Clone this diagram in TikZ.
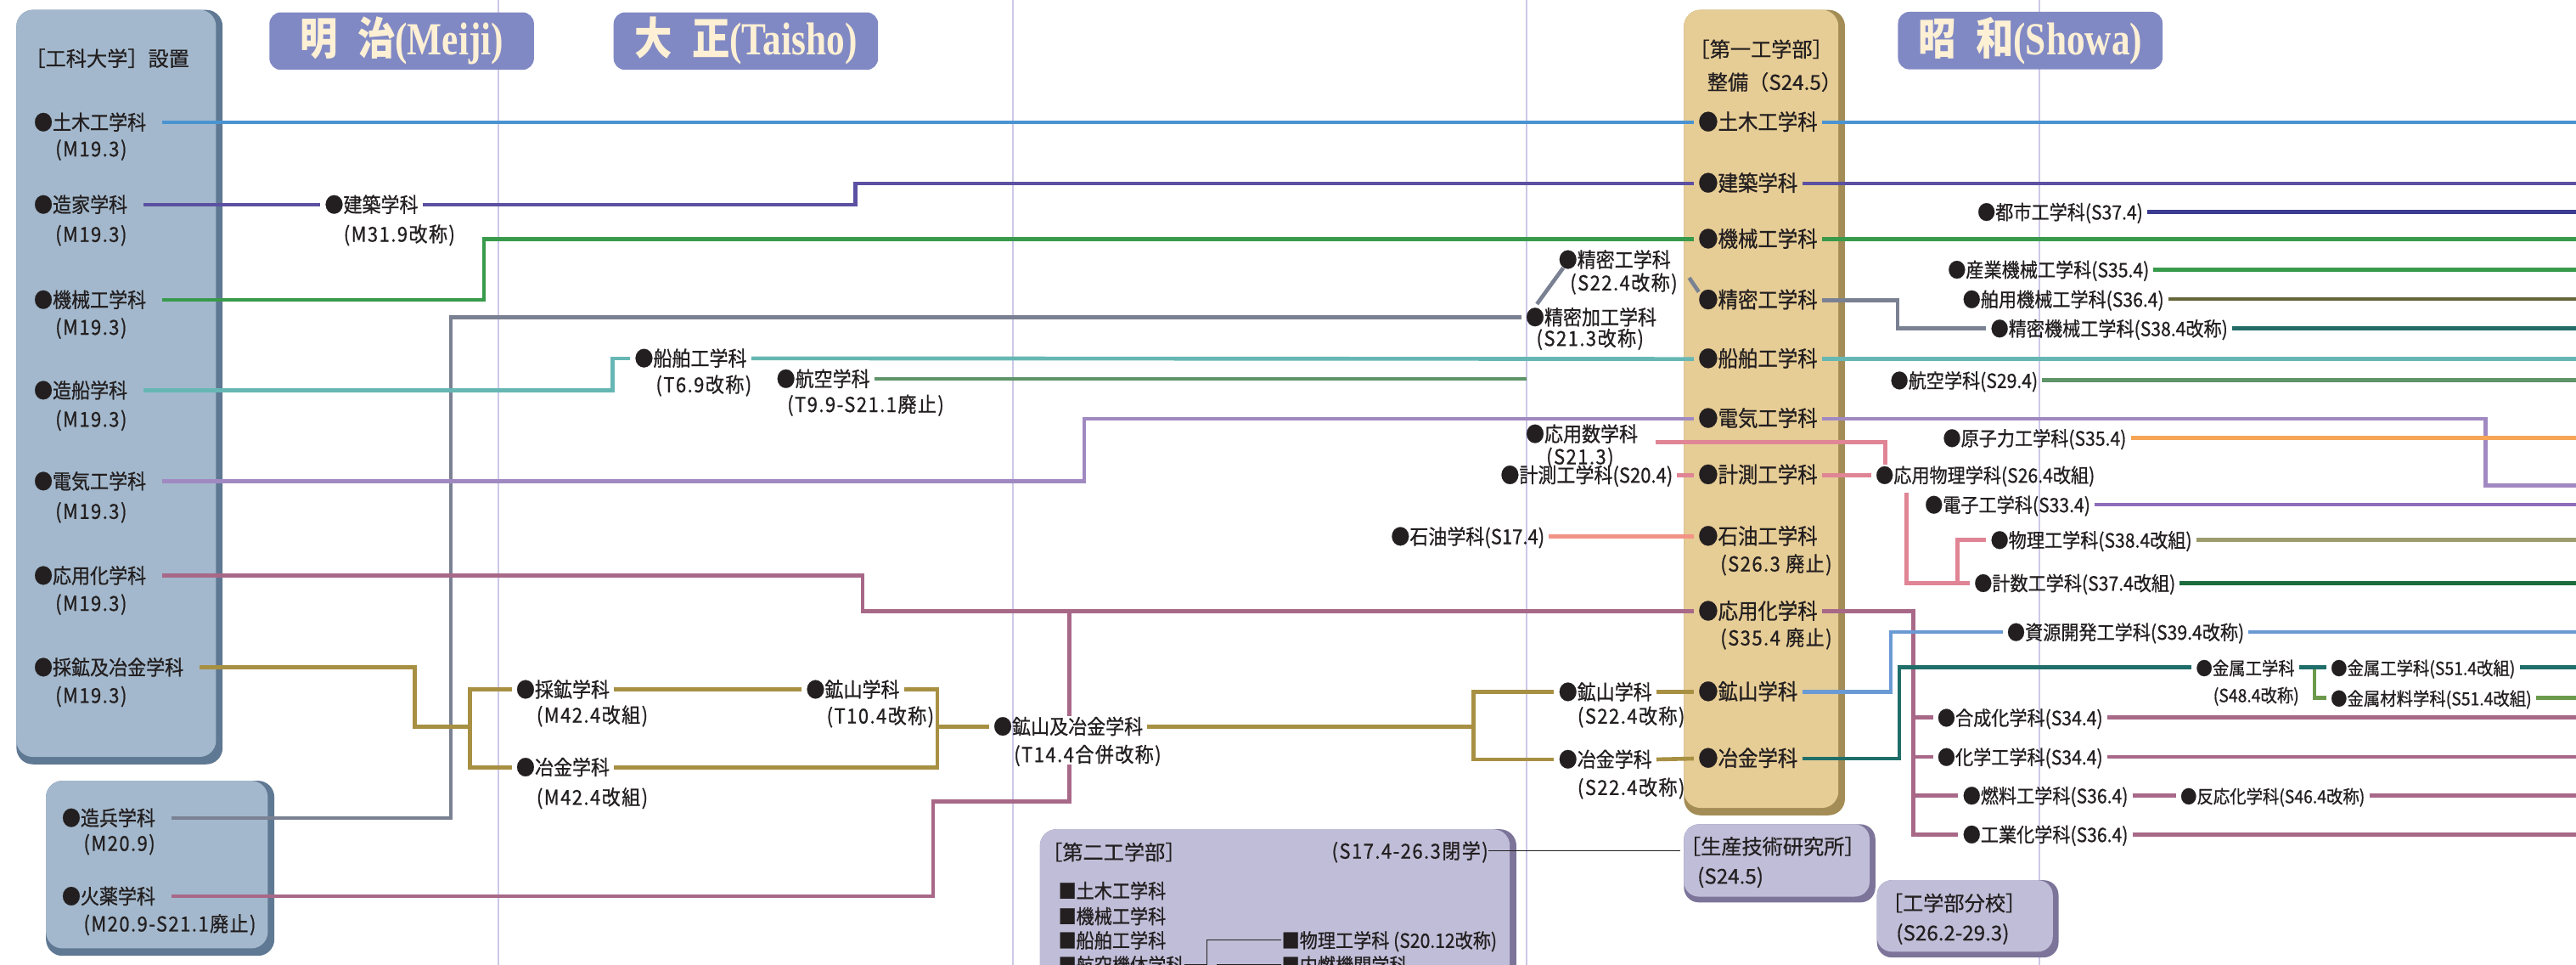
\documentclass[tikz,border=0pt]{standalone}
\usepackage{fontspec}
\newfontfamily\jp[FakeStretch=0.91, FakeBold=0.8]{Noto Sans CJK JP}
\newfontfamily\jpd[FakeStretch=0.91, FakeBold=0.8, LetterSpace=6]{Noto Sans CJK JP}
\newfontfamily\jpw[FakeBold=0.6]{Noto Sans CJK JP}
\newfontfamily\jpera[FakeStretch=0.85]{Noto Sans CJK JP}
\newfontfamily\erafont[FakeStretch=0.8]{Liberation Serif}
\newcommand\labfont{\jp\fontsize{12.5}{13}\selectfont}
\newcommand\datefont{\jpd\fontsize{12.5}{13}\selectfont}
\newcommand\flabfont{\jp\fontsize{13.3}{14}\selectfont}
\newcommand\rlabfont{\jp\fontsize{12}{13}\selectfont}
\newcommand\slabfont{\jp\fontsize{11}{12}\selectfont}
\newcommand\ttlfont{\jpw\fontsize{12.5}{14}\selectfont}
\newcommand\eratxt[2]{{\jpera\bfseries\fontsize{27}{28}\selectfont #1}{\erafont\bfseries\fontsize{28}{28}\selectfont (#2)}}
\definecolor{cDoboku}{HTML}{4A93D1}
\definecolor{cKenchiku}{HTML}{5B50A2}
\definecolor{cKikai}{HTML}{389A4B}
\definecolor{cZohei}{HTML}{7A8193}
\definecolor{cZosen}{HTML}{66B7B4}
\definecolor{cKoku}{HTML}{5E9468}
\definecolor{cDenki}{HTML}{A089C1}
\definecolor{cOuka}{HTML}{A86888}
\definecolor{cSaiya}{HTML}{A89043}
\definecolor{cSekiyu}{HTML}{F29485}
\definecolor{cKeisoku}{HTML}{E08595}
\definecolor{cToshi}{HTML}{3C3C92}
\definecolor{cHakuyo}{HTML}{66663A}
\definecolor{cSeiki}{HTML}{236B67}
\definecolor{cDenshi}{HTML}{8E6DBA}
\definecolor{cGenshi}{HTML}{F6A556}
\definecolor{cButsuri}{HTML}{9C9C6E}
\definecolor{cKeisu}{HTML}{1E6B3C}
\definecolor{cShigen}{HTML}{6A9AD4}
\definecolor{cKinzoku}{HTML}{1F6E6A}
\definecolor{cKinzai}{HTML}{6B9A4C}
\definecolor{guideC}{HTML}{CCC8E8}
\definecolor{panelA}{HTML}{A3B8CC}
\definecolor{panelB}{HTML}{5F7893}
\definecolor{firstA}{HTML}{E6CC95}
\definecolor{firstB}{HTML}{A38C55}
\definecolor{lavA}{HTML}{C0BDD8}
\definecolor{lavB}{HTML}{7C7499}
\definecolor{eraC}{HTML}{8189C4}
\definecolor{eraT}{HTML}{FDF0D4}
\definecolor{ink}{HTML}{231F20}
\begin{document}
\begin{tikzpicture}[x=1pt, y=-1pt,
  lab/.style={anchor=west, inner xsep=2.5pt, inner ysep=0pt, text height=10.8pt, text depth=1.5pt, text=ink, font=\labfont},
  flab/.style={lab, font=\flabfont},
  rlab/.style={lab, font=\rlabfont},
  slab/.style={lab, font=\slabfont},
  dt/.style={lab, inner xsep=0pt, font=\datefont},
  sq/.style={dt, font=\rlabfont},
  ttl/.style={dt, font=\ttlfont},
  ln/.style={line width=2.4pt},
  lp/.style={shorten <=7pt},
  thinln/.style={line width=0.6pt, draw=ink},
  guide/.style={line width=0.9pt, draw=guideC},
  era/.style={fill=eraC, rounded corners=7pt, minimum width=161pt, minimum height=35pt, inner sep=0pt, text=eraT}]
\useasboundingbox (0,0) rectangle (1568,587);
\clip (0,0) rectangle (1568,587);
\foreach \x in {303.4, 616.5, 929.2, 1241.3}
   \draw[guide] (\x,0) -- (\x,587);

\fill[panelB, rounded corners=10pt] (10,6) rectangle (135.5,465);
\fill[panelA, rounded corners=10pt] (10,6) rectangle (131.5,460.5);
\fill[panelB, rounded corners=10pt] (28,475) rectangle (167,581.5);
\fill[panelA, rounded corners=10pt] (28,475) rectangle (163,577);
\fill[firstB, rounded corners=10pt] (1025,6) rectangle (1123,496);
\fill[firstA, rounded corners=10pt] (1025,6) rectangle (1119,491.5);
\fill[lavB, rounded corners=10pt] (633,504.5) rectangle (923,620);
\fill[lavA, rounded corners=10pt] (633,504.5) rectangle (919,620);
\fill[lavB, rounded corners=9pt] (1025,501.5) rectangle (1141.5,549);
\fill[lavA, rounded corners=9pt] (1025,501.5) rectangle (1138,545.5);
\fill[lavB, rounded corners=9pt] (1142.5,535.5) rectangle (1253,582.5);
\fill[lavA, rounded corners=9pt] (1142.5,535.5) rectangle (1249.5,579);

\node[era] (hMeiji) at (244.5,25) {\eratxt{明\hspace{.45em}治}{Meiji}};
\node[era] (hTaisho) at (454,25) {\eratxt{大\hspace{.45em}正}{Taisho}};
\node[era] (hShowa) at (1235.8,24.7) {\eratxt{昭\hspace{.45em}和}{Showa}};

\node[ttl] (kTitle) at (15,35.6) {［工科大学］設置};
\node[lab] (lDoboku) at (18,74.4) {●土木工学科};
\node[dt] (lDobokuD) at (33.5,90.5) {(M19.3)};
\node[lab] (lZoka) at (18,124.5) {●造家学科};
\node[dt] (lZokaD) at (33.5,142.5) {(M19.3)};
\node[lab] (lKikai) at (18,182.4) {●機械工学科};
\node[dt] (lKikaiD) at (33.5,199) {(M19.3)};
\node[lab] (lZosen) at (18,237.5) {●造船学科};
\node[dt] (lZosenD) at (33.5,255) {(M19.3)};
\node[lab] (lDenki) at (18,292.8) {●電気工学科};
\node[dt] (lDenkiD) at (33.5,311) {(M19.3)};
\node[lab] (lOuka) at (18,350.2) {●応用化学科};
\node[dt] (lOukaD) at (33.5,367) {(M19.3)};
\node[lab] (lSaiya) at (18,406) {●採鉱及冶金学科};
\node[dt] (lSaiyaD) at (33.5,423) {(M19.3)};
\node[lab] (lZohei) at (35,497.6) {●造兵学科};
\node[dt] (lZoheiD) at (50.7,513) {(M20.9)};
\node[lab] (lKayaku) at (35,545.3) {●火薬学科};
\node[dt] (lKayakuD) at (50.7,562) {(M20.9-S21.1廃止)};

\node[lab] (mKenchiku) at (195,124.5) {●建築学科};
\node[dt] (mKenchikuD) at (209,142.4) {(M31.9改称)};
\node[lab] (mSenpaku) at (383.6,218) {●船舶工学科};
\node[dt] (mSenpakuD) at (399,234) {(T6.9改称)};
\node[lab] (mKoku) at (470,230.5) {●航空学科};
\node[dt] (mKokuD) at (479,246) {(T9.9-S21.1廃止)};
\node[lab] (mSaiko) at (311.5,419.5) {●採鉱学科};
\node[dt] (mSaikoD) at (326.4,435) {(M42.4改組)};
\node[lab] (mYakin) at (311.5,466.8) {●冶金学科};
\node[dt] (mYakinD) at (326.4,485) {(M42.4改組)};
\node[lab] (mKozan) at (488,419.5) {●鉱山学科};
\node[dt] (mKozanD) at (503,435.5) {(T10.4改称)};
\node[lab] (mKozanYakin) at (602,442) {●鉱山及冶金学科};
\node[dt] (mKozanYakinD) at (617,459) {(T14.4合併改称)};

\node[lab] (sSeimitsuKako) at (926,193) {●精密加工学科};
\node[dt] (sSeimitsuKakoD) at (935,205.8) {(S21.3改称)};
\node[lab] (sSeimitsu) at (946,158) {●精密工学科};
\node[dt] (sSeimitsuD) at (955.5,172) {(S22.4改称)};
\node[lab] (sSugaku) at (926,264) {●応用数学科};
\node[dt] (sSugakuD) at (941,277.8) {(S21.3)};
\node[lab] (sKeisoku) at (910.7,289) {●計測工学科(S20.4)};
\node[lab] (sSekiyu) at (844,326.4) {●石油学科(S17.4)};
\node[lab] (sKozan) at (946,421) {●鉱山学科};
\node[dt] (sKozanD) at (960,435.6) {(S22.4改称)};
\node[lab] (sYakin) at (946,462) {●冶金学科};
\node[dt] (sYakinD) at (960,479) {(S22.4改称)};

\node[ttl] (fTitle) at (1028,30) {［第一工学部］};
\node[ttl] (fTitleD) at (1039,50) {整備（S24.5）};
\node[flab] (fDoboku) at (1031,74.4) {●土木工学科};
\node[flab] (fKenchiku) at (1031,111.6) {●建築学科};
\node[flab] (fKikai) at (1031,145.6) {●機械工学科};
\node[flab] (fSeimitsu) at (1031,182.6) {●精密工学科};
\node[flab] (fSenpaku) at (1031,218.4) {●船舶工学科};
\node[flab] (fDenki) at (1031,254.7) {●電気工学科};
\node[flab] (fKeisoku) at (1031,289) {●計測工学科};
\node[flab] (fSekiyu) at (1031,326.4) {●石油工学科};
\node[dt] (fSekiyuD) at (1047,343) {(S26.3 廃止)};
\node[flab] (fOuka) at (1031,372) {●応用化学科};
\node[dt] (fOukaD) at (1047,388) {(S35.4 廃止)};
\node[flab] (fKozan) at (1031,421) {●鉱山学科};
\node[flab] (fYakin) at (1031,461.5) {●冶金学科};

\node[rlab] (rToshi) at (1201,128.9) {●都市工学科(S37.4)};
\node[rlab] (rSangyo) at (1183,164) {●産業機械工学科(S35.4)};
\node[rlab] (rHakuyo) at (1192,182) {●舶用機械工学科(S36.4)};
\node[rlab] (rSeimitsuKikai) at (1209,199.8) {●精密機械工学科(S38.4改称)};
\node[rlab] (rKoku) at (1148,231.4) {●航空学科(S29.4)};
\node[rlab] (rGenshiryoku) at (1180,266.5) {●原子力工学科(S35.4)};
\node[rlab] (rOuyouButsuri) at (1139,289) {●応用物理学科(S26.4改組)};
\node[rlab] (rDenshi) at (1169,307) {●電子工学科(S33.4)};
\node[rlab] (rButsuri) at (1209,328.5) {●物理工学科(S38.4改組)};
\node[rlab] (rKeisu) at (1199,354.7) {●計数工学科(S37.4改組)};
\node[rlab] (rShigen) at (1219,384.5) {●資源開発工学科(S39.4改称)};
\node[slab] (rKinzoku) at (1334,406) {●金属工学科};
\node[dt, font=\slabfont] (rKinzokuD) at (1347,422.5) {(S48.4改称)};
\node[slab] (rKinzokuNew) at (1416,406) {●金属工学科(S51.4改組)};
\node[slab] (rKinzai) at (1416,424.5) {●金属材料学科(S51.4改組)};
\node[rlab] (rGosei) at (1176.6,436.6) {●合成化学科(S34.4)};
\node[rlab] (rKagakuKo) at (1176.6,460.5) {●化学工学科(S34.4)};
\node[rlab] (rNenryo) at (1192,484) {●燃料工学科(S36.4)};
\node[slab] (rHanno) at (1324.5,484) {●反応化学科(S46.4改称)};
\node[rlab] (rKogyo) at (1192,507.6) {●工業化学科(S36.4)};

\node[ttl] (nTitle) at (634,518.5) {［第二工学部］};
\node[dt, anchor=east] (nTitleD) at (906,517.7) {(S17.4-26.3閉学)};
\node[sq] (nDoboku) at (644,541.8) {■土木工学科};
\node[sq] (nKikai) at (644,557.3) {■機械工学科};
\node[sq] (nSenpaku) at (644,572) {■船舶工学科};
\node[sq] (nKoukuKitai) at (644,587) {■航空機体学科};
\node[sq] (nButsuri) at (780,572) {■物理工学科 (S20.12改称)};
\node[sq] (nNainen) at (780,587) {■内燃機関学科};
\node[ttl] (tSeisan) at (1022.5,515) {［生産技術研究所］};
\node[ttl] (tSeisanD) at (1033,533) {(S24.5)};
\node[ttl] (tBunko) at (1145.5,549.5) {［工学部分校］};
\node[ttl] (tBunkoD) at (1154,567.5) {(S26.2-29.3)};

\coordinate (R) at (1572,0);
\coordinate (kokuEnd) at (929.2,230.5);
\coordinate (jSaiya) at (286,442);
\coordinate (jKozan) at (570.5,442);
\coordinate (jShowa) at (897,442);
\coordinate (jKinzoku) at (1408.8,406);
\coordinate (jButsuri) at (1191.5,354.7);
\coordinate (nainenStub) at (741,600);

\draw[ln, cDoboku, lp] (lDoboku.east) -- (fDoboku.west);
\draw[ln, cDoboku] (fDoboku.east) -- (fDoboku.east -| R);
\draw[ln, cKenchiku, lp] (lZoka.east) -- (mKenchiku.west);
\draw[ln, cKenchiku] (mKenchiku.east) -- (mKenchiku.east -| 520.7,0) |- (fKenchiku.west);
\draw[ln, cKenchiku] (fKenchiku.east) -- (fKenchiku.east -| R);
\draw[ln, cKikai, lp] (lKikai.east) -- (lKikai.east -| 294.6,0) |- (fKikai.west);
\draw[ln, cKikai] (fKikai.east) -- (fKikai.east -| R);
\draw[ln, cZohei, lp] (lZohei.east) -- (lZohei.east -| 274.5,0) |- (sSeimitsuKako.west);
\draw[ln, cZohei] ([shift={(9.5,-8)}]sSeimitsuKako.west) -- ([shift={(5.5,5)}]sSeimitsu.west);
\draw[ln, cZohei] ([shift={(7,-3)}]sSeimitsuD.east) -- ([shift={(3,-5)}]fSeimitsu.west);
\draw[ln, cZohei] (fSeimitsu.east) -- (fSeimitsu.east -| 1155,0) |- (rSeimitsuKikai.west);
\draw[ln, cSeiki] (rSeimitsuKikai.east) -- (rSeimitsuKikai.east -| R);
\draw[ln, cZosen, lp] (lZosen.east) -- (lZosen.east -| 373,0) |- (mSenpaku.west);
\draw[ln, cZosen] (mSenpaku.east) -- (fSenpaku.west);
\draw[ln, cZosen] (fSenpaku.east) -- (fSenpaku.east -| R);
\draw[ln, cKoku] (mKoku.east) -- (kokuEnd);
\draw[ln, cKoku] (rKoku.east) -- (rKoku.east -| R);
\draw[ln, cDenki, lp] (lDenki.east) -- (lDenki.east -| 660,0) |- (fDenki.west);
\draw[ln, cDenki] (fDenki.east) -- (fDenki.east -| 1513,0) -- (1513,295.4) -- (R |- 0,295.4);
\draw[ln, cDenshi] (rDenshi.east) -- (rDenshi.east -| R);
\draw[ln, cOuka, lp] (lOuka.east) -- (lOuka.east -| 525,0) |- (fOuka.west);
\draw[ln, cOuka, lp] (lKayaku.east) -| (568,487.5) -| (mKozanYakinD.south -| 651,0);
\draw[ln, cOuka] (mKozanYakin.north -| 651,0) -- (651,0 |- fOuka.west);
\draw[ln, cOuka] (fOuka.east) -| (rKogyo.west -| 1164.5,0) -- (rKogyo.west);
\foreach \n in {rGosei, rKagakuKo, rNenryo}
   \draw[ln, cOuka] (\n.west -| 1164.5,0) -- (\n.west);
\foreach \n in {rGosei, rKagakuKo, rHanno, rKogyo}
   \draw[ln, cOuka] (\n.east) -- (\n.east -| R);
\draw[ln, cOuka] (rNenryo.east) -- (rHanno.west);
\draw[ln, cSaiya, lp] (lSaiya.east) -| (252.6,442) -- (jSaiya);
\draw[ln, cSaiya] (mSaiko.west) -| (jSaiya) |- (mYakin.west);
\draw[ln, cSaiya] (mSaiko.east) -- (mKozan.west);
\draw[ln, cSaiya] (mKozan.east) -| (jKozan) |- (mYakin.east);
\draw[ln, cSaiya] (jKozan) -- (mKozanYakin.west);
\draw[ln, cSaiya] (mKozanYakin.east) -- (jShowa);
\draw[ln, cSaiya] (sKozan.west) -| (jShowa) |- (sYakin.west);
\draw[ln, cSaiya] (sKozan.east) -- (fKozan.west);
\draw[ln, cSaiya] (sYakin.east) -- (fYakin.west);
\draw[ln, cShigen] (fKozan.east) -- (fKozan.east -| 1151,0) |- (rShigen.west);
\draw[ln, cShigen] (rShigen.east) -- (rShigen.east -| R);
\draw[ln, cKinzai] (jKinzoku) |- (rKinzai.west);
\draw[ln, cKinzai] (rKinzai.east) -- (rKinzai.east -| R);
\draw[ln, cKinzoku] (fYakin.east) -- (fYakin.east -| 1156,0) |- (rKinzoku.west);
\draw[ln, cKinzoku] (rKinzoku.east) -- (rKinzokuNew.west);
\draw[ln, cKinzoku] (rKinzokuNew.east) -- (rKinzokuNew.east -| R);
\draw[ln, cSekiyu] (sSekiyu.east) -- (fSekiyu.west);
\draw[ln, cKeisoku] (sKeisoku.east) -- (fKeisoku.west);
\draw[ln, cKeisoku] (fKeisoku.east) -- (rOuyouButsuri.west);
\draw[ln, cKeisoku] ([shift={(8,5)}]sSugaku.east) -| ([xshift=8.5]rOuyouButsuri.north west);
\draw[ln, cKeisoku] ([shift={(21.5,4.5)}]rOuyouButsuri.south west) |- (rKeisu.west);
\draw[ln, cKeisoku] (jButsuri) |- (rButsuri.west);
\draw[ln, cButsuri] (rButsuri.east) -- (rButsuri.east -| R);
\draw[ln, cKeisu] (rKeisu.east) -- (rKeisu.east -| R);
\draw[ln, cGenshi] (rGenshiryoku.east) -- (rGenshiryoku.east -| R);
\draw[ln, cToshi] (rToshi.east) -- (rToshi.east -| R);
\draw[ln, cKikai] (rSangyo.east) -- (rSangyo.east -| R);
\draw[ln, cHakuyo] (rHakuyo.east) -- (rHakuyo.east -| R);

\draw[thinln] (nTitleD.east) -- (nTitleD.east -| tSeisan.west);
\draw[thinln] (nKoukuKitai.east) -| (734.5,572) -- (nButsuri.west);
\draw[thinln] (nainenStub) |- (nNainen.west);
\end{tikzpicture}
\end{document}
